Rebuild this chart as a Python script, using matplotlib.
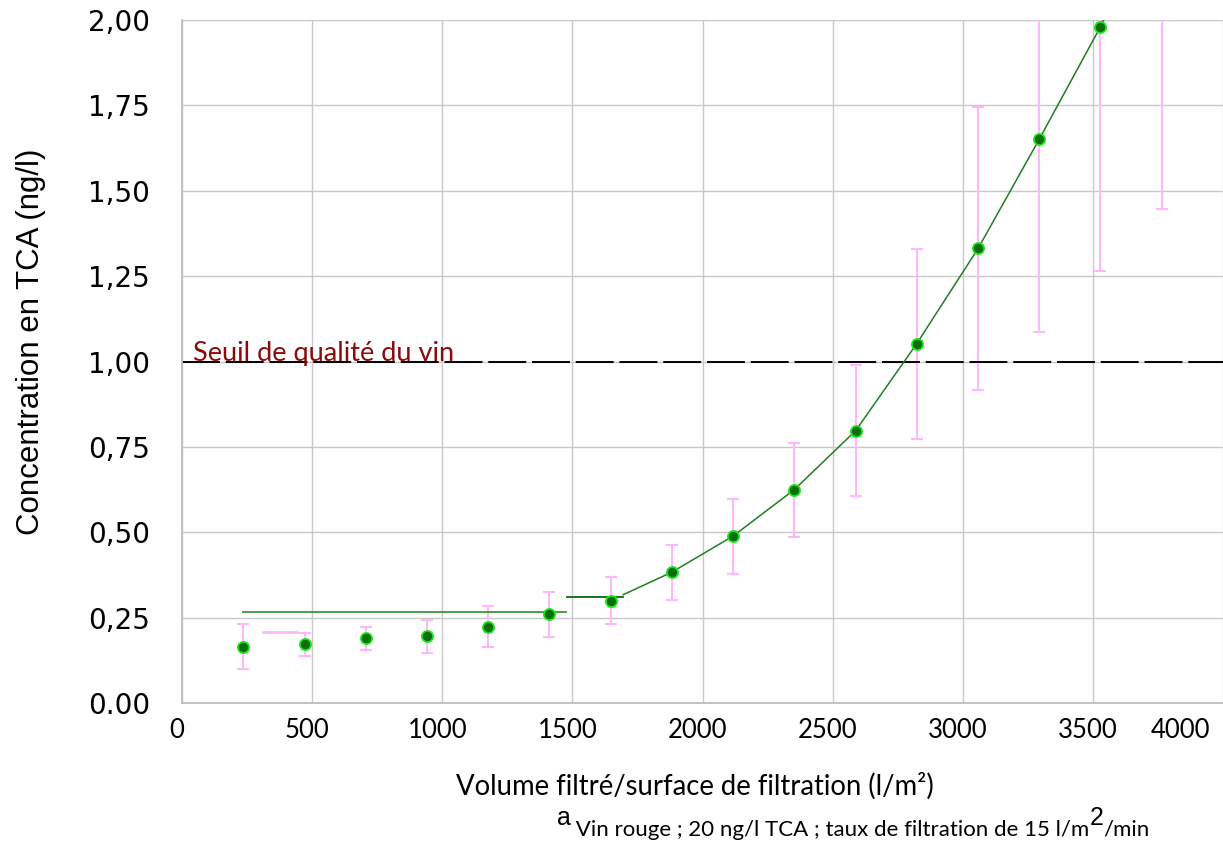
import numpy as np
import matplotlib
matplotlib.use('Agg')
import matplotlib.pyplot as plt
from matplotlib.transforms import ScaledTranslation

# volume filtered per filter surface (l/m2) and measured TCA (ng/l)
volume = [235, 471, 706, 941, 1176, 1412, 1647, 1882, 2118, 2353, 2588, 2823, 3059, 3294, 3529]
tca = [0.164, 0.173, 0.190, 0.196, 0.223, 0.260, 0.300, 0.383, 0.489, 0.625, 0.797, 1.052, 1.331, 1.651, 1.980]

# error bars (one more bar at the end without a point)
err_x = volume + [3764]
err_lo = [0.100, 0.138, 0.156, 0.147, 0.163, 0.192, 0.232, 0.302, 0.379, 0.487, 0.605, 0.772, 0.918, 1.085, 1.264, 1.447]
err_hi = [0.230, 0.205, 0.223, 0.243, 0.283, 0.324, 0.368, 0.464, 0.597, 0.760, 0.990, 1.329, 1.745, 2.200, 2.200, 2.200]

# stray pink cap near the second point
stray_x = [310, 440]
stray_y = [0.209, 0.209]

# fitted lines
plateau_x = [235, 1477]
plateau_y = [0.266, 0.266]
step_x = [1480, 1695]
step_y = [0.309, 0.309]
trend_x = [1695, 1882, 2118, 2353, 2588, 2823, 3059, 3294, 3529, 3560]
trend_y = [0.317, 0.383, 0.489, 0.625, 0.797, 1.052, 1.331, 1.651, 1.980, 2.030]

threshold = 1.0
threshold_label = 'Seuil de qualité du vin'

x_ticks = [0, 500, 1000, 1500, 2000, 2500, 3000, 3500, 4000]
x_ticklabels = ['0', '500', '1000', '1500', '2000', '2500', '3000', '3500', '4000']
y_ticks = [0, 0.25, 0.5, 0.75, 1.0, 1.25, 1.5, 1.75, 2.0]
y_ticklabels = ['0.00', '0,25', '0,50', '0,75', '1,00', '1,25', '1,50', '1,75', '2,00']

W, H = 1223, 843
fig = plt.figure(figsize=(W / 100, H / 100), dpi=100)
ax = fig.add_axes([182 / W, 1 - 703 / H, (W - 182) / W, (703 - 20) / H])

ax.set_xlim(0, 4000)
ax.set_ylim(0, 2.0)
ax.set_axisbelow(True)
ax.grid(True, color='#c8c8c8', lw=1.0)
for side in ['top', 'right']:
    ax.spines[side].set_visible(False)
for side in ['left', 'bottom']:
    ax.spines[side].set_color('#bdbdbd')
    ax.spines[side].set_linewidth(1.3)

# error bars
lo = np.array(err_lo)
hi = np.array(err_hi)
ax.errorbar(err_x, lo, yerr=[np.zeros(len(lo)), hi - lo], fmt='none',
            ecolor='#ffb8ff', elinewidth=1.5, capsize=4.5, capthick=1.5, zorder=2)
ax.plot(stray_x, stray_y, color='#ffb8ff', lw=2.0, zorder=2)

# quality threshold
ax.axhline(threshold, color='black', lw=1.4, dashes=(19.5, 3), zorder=2.5)
ax.text(42, threshold, threshold_label, color='#8c0a0a', fontfamily='Lato',
        fontsize=19.5, ha='left', va='baseline', zorder=3)

# fitted lines
ax.plot(plateau_x, plateau_y, color='#3a9a3a', lw=1.3, zorder=3)
ax.plot(step_x, step_y, color='#0a6a0a', lw=1.3, zorder=3)
ax.plot(trend_x, trend_y, color='#1f7f1f', lw=1.1, zorder=3)

# measured points
ax.plot(volume, tca, 'o', ms=8, mfc='#0b6e0b', mec='#19e619', mew=1.3, zorder=5, clip_on=False)

ax.set_xticks(x_ticks, x_ticklabels, fontfamily='Lato', fontsize=18.5)
ax.set_yticks(y_ticks, y_ticklabels, fontfamily='DejaVu Sans', fontsize=20)
ax.tick_params(axis='x', length=0, pad=11)
ax.tick_params(axis='y', length=0, pad=23)

# x labels sit a bit left of their ticks, last one pushed inside
xlabels = ax.get_xticklabels()
for lbl in xlabels[:-1]:
    lbl.set_transform(lbl.get_transform() + ScaledTranslation(-5 / 100, 0, fig.dpi_scale_trans))
xlabels[-1].set_horizontalalignment('right')
xlabels[-1].set_transform(xlabels[-1].get_transform() + ScaledTranslation(-13 / 100, 0, fig.dpi_scale_trans))

# axis titles
fig.text(31 / W, 1 - 341.5 / H, 'Concentration en TCA (ng/l)', rotation=90,
         ha='center', va='center', fontsize=22.5, fontfamily='Liberation Sans')
fig.text(695 / W, 1 - 795 / H, 'Volume filtré/surface de filtration (l/m²)',
         ha='center', va='baseline', fontfamily='Lato', fontsize=19.8)

# footnote with raised "a" and "2"
t_main = fig.text(830 / W, 1 - 836 / H, ' Vin rouge ; 20 ng/l TCA ; taux de filtration de 15 l/m',
                  ha='center', va='baseline', fontfamily='Lato', fontsize=16)
ax.annotate('a', xy=(0, 0), xycoords=t_main, xytext=(0, 7), textcoords='offset points',
            ha='right', va='bottom', fontfamily='Liberation Sans', fontsize=18,
            annotation_clip=False)
t_two = ax.annotate('2', xy=(1, 0), xycoords=t_main, xytext=(0, 7), textcoords='offset points',
                    ha='left', va='bottom', fontfamily='Liberation Sans', fontsize=18,
                    annotation_clip=False)
ax.annotate('/min', xy=(1, 0), xycoords=(t_two, t_main), ha='left', va='bottom',
            fontfamily='Lato', fontsize=16, annotation_clip=False)

fig.savefig('out.png', dpi=100)
